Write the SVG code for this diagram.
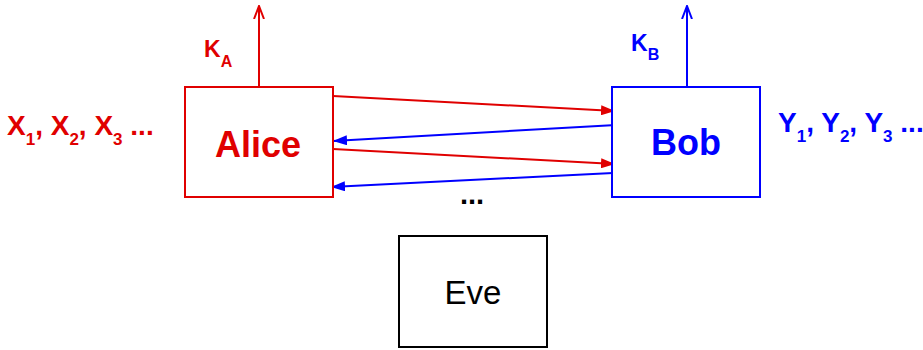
<svg xmlns="http://www.w3.org/2000/svg" width="923" height="350" viewBox="0 0 923 350">
<defs>
<style>
.t{font-family:"Liberation Sans",Arial,sans-serif;font-weight:bold}
.r{fill:#e00000}
.b{fill:#0000ff}
.box{fill:#fff;stroke-width:2}
</style>
<marker id="ar" viewBox="0 0 14 10" refX="14" refY="5" markerWidth="14" markerHeight="10" markerUnits="userSpaceOnUse" orient="auto"><path d="M0,0L14,5L0,10z" fill="#e00000"/></marker>
<marker id="ab" viewBox="0 0 14 10" refX="14" refY="5" markerWidth="14" markerHeight="10" markerUnits="userSpaceOnUse" orient="auto"><path d="M0,0L14,5L0,10z" fill="#0000ff"/></marker>
<marker id="or" viewBox="0 0 14 12" refX="13" refY="6" markerWidth="14" markerHeight="12" markerUnits="userSpaceOnUse" orient="auto"><path d="M0,1L13,6L0,11" fill="none" stroke="#e00000" stroke-width="2"/></marker>
<marker id="ob" viewBox="0 0 14 12" refX="13" refY="6" markerWidth="14" markerHeight="12" markerUnits="userSpaceOnUse" orient="auto"><path d="M0,1L13,6L0,11" fill="none" stroke="#0000ff" stroke-width="2"/></marker>
</defs>
<rect width="923" height="350" fill="#fff"/>
<g id="connectors" stroke-width="2" fill="none">
<line x1="259" y1="87" x2="259" y2="6" stroke="#e00000" marker-end="url(#or)"/>
<line x1="687" y1="87" x2="687" y2="6" stroke="#0000ff" marker-end="url(#ob)"/>
<line x1="333" y1="96" x2="615" y2="111" stroke="#e00000" marker-end="url(#ar)"/>
<line x1="616" y1="125" x2="333" y2="141" stroke="#0000ff" marker-end="url(#ab)"/>
<line x1="333" y1="149" x2="615" y2="164" stroke="#e00000" marker-end="url(#ar)"/>
<line x1="613" y1="173" x2="331" y2="187" stroke="#0000ff" marker-end="url(#ab)"/>
</g>
<g id="alice">
<rect class="box" x="185" y="87" width="148" height="110" stroke="#e00000"/>
<text class="t r" x="258" y="157" font-size="36" text-anchor="middle">Alice</text>
<text class="t r" x="204" y="57" font-size="23">K<tspan font-size="16" dy="10">A</tspan></text>
<text class="t r" x="7" y="135" font-size="28">X<tspan font-size="17" dy="10">1</tspan><tspan dy="-10">, X</tspan><tspan font-size="17" dy="10">2</tspan><tspan dy="-10">, X</tspan><tspan font-size="17" dy="10">3</tspan><tspan dy="-10"> ...</tspan></text>
</g>
<g id="bob">
<rect class="box" x="612" y="87" width="148" height="110" stroke="#0000ff"/>
<text class="t b" x="686" y="155" font-size="36" text-anchor="middle">Bob</text>
<text class="t b" x="631" y="51" font-size="23">K<tspan font-size="16" dy="9">B</tspan></text>
<text class="t b" x="778" y="132" font-size="28">Y<tspan font-size="17" dy="10">1</tspan><tspan dy="-10">, Y</tspan><tspan font-size="17" dy="10">2</tspan><tspan dy="-10">, Y</tspan><tspan font-size="17" dy="10">3</tspan><tspan dy="-10"> ...</tspan></text>
</g>
<g id="dots">
<text class="t" x="472" y="204" font-size="29" text-anchor="middle" fill="#000">...</text>
</g>
<g id="eve">
<rect class="box" x="399" y="236" width="148" height="111" stroke="#000"/>
<text x="473" y="304" font-size="33" text-anchor="middle" font-family="Liberation Sans,Arial,sans-serif" fill="#000">Eve</text>
</g>
</svg>
